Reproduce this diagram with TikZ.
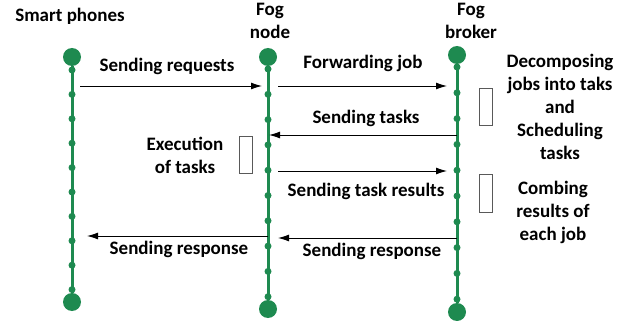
\documentclass[tikz,border=0pt]{standalone}
\usepackage{fontspec}
\setmainfont{Carlito}
\usepackage{tikz}
\usetikzlibrary{arrows.meta,positioning}
\definecolor{lifegreen}{RGB}{30,138,80}
\tikzset{
    head/.style={circle, fill=lifegreen, inner sep=0pt, minimum size=18pt},
    dot/.style={circle, fill=lifegreen, inner sep=0pt, minimum size=7pt},
    life/.style={draw=lifegreen, line width=3pt},
    msg/.style={draw, line width=0.9pt, -{Latex[length=11pt,width=7pt]}},
    act/.style={draw=black!65, line width=0.8pt},
    lbl/.style={font=\fontsize{19}{23}\selectfont\bfseries, align=center, inner sep=0pt}
}
\begin{document}
\begin{tikzpicture}[x=1pt, y=-1pt]
    \useasboundingbox (0,0) rectangle (627,321);

    % Lifelines
    \node[head] (phone-top) at (72,57) {};
    \node[head] (phone-bot) at (72,302) {};
    \node[head] (fog-top) at (268,57) {};
    \node[head] (fog-bot) at (268,309) {};
    \node[head] (broker-top) at (457,55) {};
    \node[head] (broker-bot) at (457,312) {};
    \draw[life] (phone-top) -- (phone-bot);
    \draw[life] (fog-top) -- (fog-bot);
    \draw[life] (broker-top) -- (broker-bot);
    \foreach \i in {0,...,9} {
        \node[dot] (p\i) at (72, {70+\i*24.4}) {};
        \node[dot] (f\i) at (268, {69+\i*25.3}) {};
        \node[dot] (b\i) at (457, {67+\i*25.8}) {};
    }

    % Headers
    \node[lbl] (phone-lbl) at (70,16) {Smart phones};
    \node[lbl] (fog-lbl) at (270,21) {Fog\\node};
    \node[lbl] (broker-lbl) at (471,21) {Fog\\broker};

    % Messages
    \coordinate (req-s) at (80,86);
    \coordinate (req-e) at (262,86);
    \coordinate (fwd-s) at (278,86);
    \coordinate (fwd-e) at (447,86);
    \coordinate (task-s) at (457,135);
    \coordinate (task-e) at (269,135);
    \coordinate (res-s) at (278,171);
    \coordinate (res-e) at (447,171);
    \coordinate (rsp2-s) at (457,238);
    \coordinate (rsp2-e) at (278,238);
    \coordinate (rsp1-s) at (268,236);
    \coordinate (rsp1-e) at (87,236);
    \draw[msg] (req-s) -- (req-e);
    \draw[msg] (fwd-s) -- (fwd-e);
    \draw[msg] (task-s) -- (task-e);
    \draw[msg] (res-s) -- (res-e);
    \draw[msg] (rsp2-s) -- (rsp2-e);
    \draw[msg] (rsp1-s) -- (rsp1-e);
    \node[lbl] (req-lbl) at (167,66) {Sending requests};
    \node[lbl] (fwd-lbl) at (363,63) {Forwarding job};
    \node[lbl] (task-lbl) at (366,118) {Sending tasks};
    \node[lbl] (res-lbl) at (366,191) {Sending task results};
    \node[lbl] (rsp2-lbl) at (372,251) {Sending response};
    \node[lbl] (rsp1-lbl) at (179,249) {Sending response};

    % Activations
    \draw[act] (239,136) rectangle (252,173);
    \draw[act] (479,88) rectangle (492,125);
    \draw[act] (479,174) rectangle (492,212);
    \node[lbl] (exec-lbl) at (185,155) {Execution\\of tasks};
    \node[lbl] (dec-lbl) at (560,107) {Decomposing\\jobs into taks\\and\\Scheduling\\tasks};
    \node[lbl] (comb-lbl) at (553,212) {Combing\\results of\\each job};
\end{tikzpicture}
\end{document}
